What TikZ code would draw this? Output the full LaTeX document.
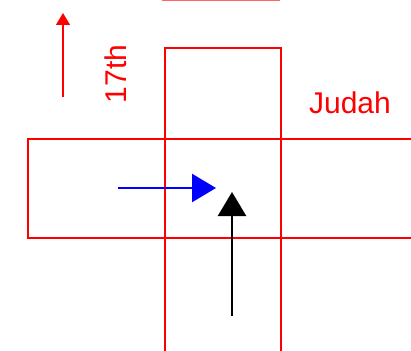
\documentclass[tikz,border=0pt]{standalone}
\usepackage{fontspec}
\setmainfont{Liberation Sans}
\usetikzlibrary{arrows.meta}

\begin{document}
\begin{tikzpicture}[
  x=1pt, y=-1pt,
  font=\fontsize{30}{33}\selectfont,
  street/.style={draw=red, line width=2.6pt},
  label/.style={text=red, inner sep=0pt},
  bigarrow/.style={line width=2.6pt, -{Triangle[length=24pt, width=28pt]}}
]
\useasboundingbox (0,0) rectangle (411,350);
\clip (0,0) rectangle (411,350);
% streets
\draw[draw=red!60, line width=1.5pt] (162,0.5) -- (280,0.5);
\draw[street] (165,360) -- (165,48) -- (281,48) -- (281,360);
\draw[street] (420,139) -- (28,139) -- (28,238) -- (420,238);
% labels
\node[label, rotate=90] (seventeenth) at (116,74) {17th};
\node[label] (judah) at (350,103) {Judah};
% north arrow
\coordinate (northfoot) at (63,97);
\coordinate (northtip) at (63,13);
\draw[draw=red, line width=1.5pt, -{Triangle[length=12pt, width=14pt]}] (northfoot) -- (northtip);
% turning arrows
\coordinate (bluefoot) at (118,188);
\coordinate (bluetip) at (216,188);
\coordinate (blackfoot) at (232,316);
\coordinate (blacktip) at (232,192);
\draw[bigarrow, blue] (bluefoot) -- (bluetip);
\draw[bigarrow, black] (blackfoot) -- (blacktip);
\end{tikzpicture}
\end{document}
